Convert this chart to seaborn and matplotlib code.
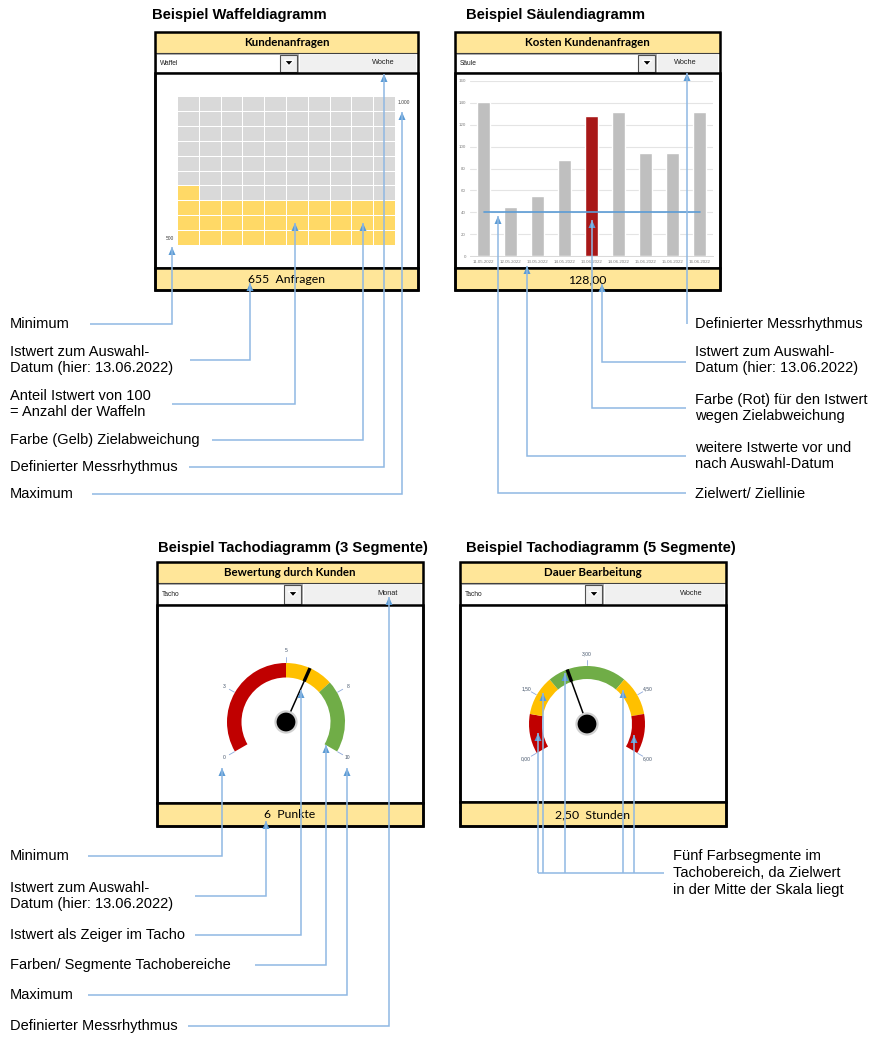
import numpy as np
import pandas as pd
import matplotlib
matplotlib.use('Agg')
import matplotlib.pyplot as plt
import seaborn as sns
from matplotlib.colors import ListedColormap
from matplotlib.patches import Rectangle, Circle, Polygon

# --- data -------------------------------------------------------------
waffle_value = 655
waffle_min = 500
waffle_max = 1000

bar_dates = ['11.05.2022', '12.05.2022', '13.05.2022', '14.05.2022', '13.06.2022',
             '14.06.2022', '15.06.2022', '15.06.2022', '16.06.2022']
bar_values = [141, 45, 55, 88, 128, 132, 94, 94, 132]
bar_selected = 4
bar_target = 40
bar_yticks = [0, 20, 40, 60, 80, 100, 120, 140, 160]

gauge1_bounds = [0, 5, 7, 10]
gauge1_colors = ['#C00000', '#FFC000', '#70AD47']
gauge1_value = 6
gauge1_ticks = [0, 2.5, 5, 7.5, 10]
gauge1_labels = ['0', '3', '5', '8', '10']

gauge2_bounds = [0, 1, 2, 4, 5, 6]
gauge2_colors = ['#C00000', '#FFC000', '#70AD47', '#FFC000', '#C00000']
gauge2_value = 2.5
gauge2_ticks = [0, 1.5, 3, 4.5, 6]
gauge2_labels = ['0,00', '1,50', '3,00', '4,50', '6,00']

# --- figure setup -----------------------------------------------------
W, H = 886, 1050
HEAD = '#FFE699'
LINE = '#8FB8E3'
ARROW = '#5B9BD5'

sns.set_theme(style='white')
plt.rcParams['font.family'] = ['Liberation Sans', 'DejaVu Sans']

fig = plt.figure(figsize=(W / 100, H / 100), dpi=100)
fig.patch.set_facecolor('white')


def px_axes(x0, y0, x1, y1):
    return fig.add_axes([x0 / W, 1 - y1 / H, (x1 - x0) / W, (y1 - y0) / H])


bg = px_axes(0, 0, W, H)
bg.set_xlim(0, W)
bg.set_ylim(H, 0)
bg.axis('off')
bg.set_zorder(0)

fg = px_axes(0, 0, W, H)
fg.set_xlim(0, W)
fg.set_ylim(H, 0)
fg.axis('off')
fg.patch.set_alpha(0)
fg.set_zorder(10)


def panel(x0, x1, ys, split, title, mode, period, footer):
    top, hb, db, cb, bot = ys
    bg.add_patch(Rectangle((x0, top), x1 - x0, hb - top, fc=HEAD, ec='#404040', lw=0.8))
    bg.text((x0 + x1) / 2, (top + hb) / 2 + 0.5, title, family=['Lato', 'DejaVu Sans'],
            weight='bold', size=8.3, ha='center', va='center', color='black')
    # dropdown row
    bg.add_patch(Rectangle((x0 + 1, hb + 1), split - x0 - 1, db - hb - 2, fc='white',
                           ec='#9A9A9A', lw=0.6))
    bg.add_patch(Rectangle((split - 18, hb + 1.5), 17.5, db - hb - 3, fc='#F0F0F0',
                           ec='#505050', lw=0.8))
    mx, my = split - 9, (hb + db) / 2
    bg.add_patch(Polygon([(mx - 4.8, my - 2.6), (mx + 4.8, my - 2.6), (mx, my + 2.8)],
                         fc='black'))
    bg.add_patch(Rectangle((split + 2, hb + 1), x1 - split - 4, db - hb - 2, fc='#F0F0F0',
                           ec='none'))
    bg.text(x0 + 5, my + 0.5, mode, size=4.8, ha='left', va='center', color='#202020')
    bg.text(x1 - 35, my - 0.5, period, size=5.3, ha='center', va='center', color='#202020')
    # chart area and footer
    bg.add_patch(Rectangle((x0, db), x1 - x0, cb - db, fc='white', ec='black', lw=1.8))
    bg.add_patch(Rectangle((x0, cb), x1 - x0, bot - cb, fc=HEAD, ec='black', lw=1.8))
    bg.text((x0 + x1) / 2, (cb + bot) / 2 + 0.5, footer, family=['Lato', 'DejaVu Sans'],
            size=8.8, ha='center', va='center', color='black')
    bg.add_patch(Rectangle((x0, top), x1 - x0, bot - top, fc='none', ec='black', lw=1.8))


panel(155, 418, (32, 53, 73, 268, 290), 298, 'Kundenanfragen', 'Waffel', 'Woche',
      f'{waffle_value}  Anfragen')
panel(455, 720, (32, 53, 73, 268, 290), 656, 'Kosten Kundenanfragen', 'Säule', 'Woche',
      f'{bar_values[bar_selected]:.2f}'.replace('.', ','))
panel(157, 423, (562, 583, 605, 803, 826), 302, 'Bewertung durch Kunden', 'Tacho', 'Monat',
      f'{gauge1_value}  Punkte')
panel(460, 726, (562, 583, 605, 802, 826), 603, 'Dauer Bearbeitung', 'Tacho', 'Woche',
      f'{gauge2_value:.2f}  Stunden'.replace('.', ','))

for tx, ty, t in [(152, 15, 'Beispiel Waffeldiagramm'), (466, 15, 'Beispiel Säulendiagramm'),
                  (158, 548, 'Beispiel Tachodiagramm (3 Segmente)'),
                  (466, 548, 'Beispiel Tachodiagramm (5 Segmente)')]:
    bg.text(tx, ty, t, size=10.6, weight='bold', ha='left', va='center', color='black')

# --- waffle chart -----------------------------------------------------
n_filled = int(round((waffle_value - waffle_min) / (waffle_max - waffle_min) * 100))
cells = np.zeros(100)
cells[:n_filled] = 1
grid = cells.reshape(10, 10)[::-1]

ax_w = px_axes(177, 96, 395, 245)
ax_w.set_zorder(2)
sns.heatmap(grid, ax=ax_w, cmap=ListedColormap(['#D9D9D9', '#FFD966']), vmin=0, vmax=1,
            cbar=False, linewidths=0.65, linecolor='white', xticklabels=False, yticklabels=False)
ax_w.patch.set_alpha(0)
bg.text(170, 238, f'{waffle_min}', size=3.5, ha='center', va='center', color='#404040')
bg.text(404, 103, f'{waffle_max:,}'.replace(',', '.'), size=3.5, ha='center', va='center',
        color='#404040')

# --- column chart -----------------------------------------------------
df = pd.DataFrame({'pos': range(len(bar_values)), 'wert': bar_values})
bar_colors = ['#C00000' if i == bar_selected else '#BFBFBF' for i in range(len(bar_values))]

ax_b = px_axes(470, 81, 713, 256)
ax_b.set_zorder(2)
sns.barplot(data=df, x='pos', y='wert', hue='pos', palette=bar_colors, legend=False,
            width=0.45, ax=ax_b, zorder=2)
ax_b.plot([0, len(bar_values) - 1], [bar_target, bar_target], color=ARROW, lw=1.2, zorder=3)
ax_b.set_xlim(-0.5, len(bar_values) - 0.5)
ax_b.set_ylim(0, 160)
ax_b.set_yticks(bar_yticks)
ax_b.set_xticks(range(len(bar_dates)))
ax_b.set_xticklabels(bar_dates)
ax_b.yaxis.grid(True, color='#E4E4E4', lw=0.8, zorder=0)
ax_b.set_axisbelow(True)
ax_b.tick_params(length=0, labelsize=3.2, colors='#7F7F7F', pad=3)
ax_b.set_xlabel('')
ax_b.set_ylabel('')
for s in ['top', 'right', 'left']:
    ax_b.spines[s].set_visible(False)
ax_b.spines['bottom'].set_color('#D9D9D9')
ax_b.spines['bottom'].set_linewidth(0.7)
ax_b.patch.set_alpha(0)


# --- gauges -----------------------------------------------------------
def gauge(cx, cy, R, thick, bounds, colors, value, ticks, labels):
    vmin, vmax = bounds[0], bounds[-1]
    L = R * 1.6
    ax = px_axes(cx - L, cy - L, cx + L, cy + L)
    ax.set_zorder(2)
    sizes = list(np.diff(bounds)) + [(vmax - vmin) / 2]
    ax.pie(sizes, colors=colors + ['none'], startangle=210, counterclock=False, radius=1,
           wedgeprops=dict(width=thick / R, edgecolor='none'))
    ax.set_xlim(-L / R, L / R)
    ax.set_ylim(-L / R, L / R)
    ax.set_aspect('equal')
    ax.axis('off')

    def ang(v):
        return np.radians(210 - 240 * (v - vmin) / (vmax - vmin))

    for t, lab in zip(ticks, labels):
        a = ang(t)
        ax.plot([np.cos(a) * 1.01, np.cos(a) * 1.11], [np.sin(a) * 1.01, np.sin(a) * 1.11],
                color='#8EA9DB', lw=0.6)
        ax.text(np.cos(a) * 1.21, np.sin(a) * 1.21, lab, ha='center', va='center',
                size=3.6, color='#44546A')
    a = ang(value)
    r_in = 1 - thick / R
    ax.plot([0, r_in * np.cos(a)], [0, r_in * np.sin(a)], color='black', lw=1.1, zorder=4)
    ax.plot([r_in * np.cos(a), np.cos(a)], [r_in * np.sin(a), np.sin(a)], color='black',
            lw=2.4, solid_capstyle='butt', zorder=4)
    ax.add_patch(Circle((0, 0), 10.5 / R, fc='black', ec='#D0D0D0', lw=1.6, zorder=5))


gauge(286, 722, 59, 14.5, gauge1_bounds, gauge1_colors, gauge1_value, gauge1_ticks,
      gauge1_labels)
gauge(587, 724, 58, 13, gauge2_bounds, gauge2_colors, gauge2_value, gauge2_ticks,
      gauge2_labels)


# --- annotations ------------------------------------------------------
def connector(pts, arrow=True):
    xs, ys = zip(*pts)
    fg.plot(xs, ys, color=LINE, lw=1.1, solid_joinstyle='miter', solid_capstyle='butt')
    if arrow:
        tx, ty = pts[-1]
        fg.add_patch(Polygon([(tx - 3.5, ty + 8), (tx + 3.5, ty + 8), (tx, ty)],
                             closed=True, fc=ARROW, ec='none'))


def note(x, y, text, ha='left'):
    fg.text(x, y, text, size=10.5, ha=ha, va='center', color='black', linespacing=1.25)


# waffle
note(10, 324, 'Minimum')
connector([(90, 324), (172, 324), (172, 247)])
note(10, 360, 'Istwert zum Auswahl-\nDatum (hier: 13.06.2022)')
connector([(190, 360), (250, 360), (250, 283)])
note(10, 404, 'Anteil Istwert von 100\n= Anzahl der Waffeln')
connector([(172, 404), (295, 404), (295, 223)])
note(10, 440, 'Farbe (Gelb) Zielabweichung')
connector([(212, 440), (363, 440), (363, 223)])
note(10, 467, 'Definierter Messrhythmus')
connector([(189, 467), (384, 467), (384, 74)])
note(10, 494, 'Maximum')
connector([(92, 494), (402, 494), (402, 112)])

# column
note(695, 324, 'Definierter Messrhythmus')
connector([(687, 324), (687, 73)])
note(695, 360, 'Istwert zum Auswahl-\nDatum (hier: 13.06.2022)')
connector([(686, 362), (602, 362), (602, 284)])
note(695, 408, 'Farbe (Rot) für den Istwert\nwegen Zielabweichung')
connector([(686, 408), (592, 408), (592, 220)])
note(695, 456, 'weitere Istwerte vor und\nnach Auswahl-Datum')
connector([(686, 456), (527, 456), (527, 266)])
note(695, 494, 'Zielwert/ Ziellinie')
connector([(686, 493), (498, 493), (498, 216)])

# gauge 3 segments
note(10, 856, 'Minimum')
connector([(88, 856), (222, 856), (222, 768)])
note(10, 896, 'Istwert zum Auswahl-\nDatum (hier: 13.06.2022)')
connector([(195, 896), (266, 896), (266, 821)])
note(10, 935, 'Istwert als Zeiger im Tacho')
connector([(195, 935), (301, 935), (301, 690)])
note(10, 965, 'Farben/ Segmente Tachobereiche')
connector([(255, 965), (326, 965), (326, 745)])
note(10, 995, 'Maximum')
connector([(88, 995), (347, 995), (347, 768)])
note(10, 1026, 'Definierter Messrhythmus')
connector([(188, 1026), (389, 1026), (389, 597)])

# gauge 5 segments
note(673, 873, 'Fünf Farbsegmente im\nTachobereich, da Zielwert\nin der Mitte der Skala liegt')
connector([(664, 873), (538, 873)], arrow=False)
for vx, vy in [(538, 733), (543, 693), (565, 673), (623, 690), (634, 735)]:
    connector([(vx, 873), (vx, vy)])

fig.savefig('out.png', dpi=100)
